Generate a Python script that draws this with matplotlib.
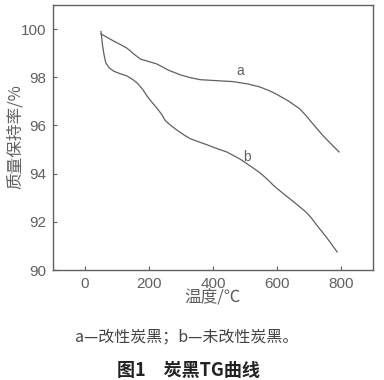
import numpy as np
import matplotlib.pyplot as plt

plt.rcParams['font.family'] = ['Noto Sans CJK SC', 'DejaVu Sans']

# curve a: modified carbon black
temp_a = [50, 70, 90, 112, 132, 154, 174, 200, 225, 260, 298, 330, 360, 410, 463, 510, 546, 575, 598, 635, 670, 690, 710, 742, 770, 794]
mass_a = [99.8, 99.65, 99.5, 99.35, 99.2, 98.95, 98.75, 98.65, 98.55, 98.3, 98.1, 97.98, 97.9, 97.86, 97.82, 97.72, 97.6, 97.45, 97.3, 97.02, 96.7, 96.42, 96.1, 95.6, 95.22, 94.9]

# curve b: unmodified carbon black
temp_b = [50, 52, 55, 60, 65, 75, 90, 110, 132, 150, 164, 180, 195, 210, 226, 240, 251, 270, 288, 310, 329, 355, 381, 410, 443, 485, 524, 545, 567, 590, 617, 655, 691, 705, 722, 755, 788]
mass_b = [99.9, 99.65, 99.3, 98.9, 98.6, 98.4, 98.25, 98.15, 98.05, 97.9, 97.75, 97.5, 97.2, 96.95, 96.7, 96.45, 96.2, 95.98, 95.8, 95.6, 95.45, 95.32, 95.2, 95.05, 94.9, 94.6, 94.25, 94.05, 93.8, 93.5, 93.2, 92.8, 92.4, 92.2, 91.9, 91.35, 90.75]

xticks = [0, 200, 400, 600, 800]
yticks = [90, 92, 94, 96, 98, 100]

grey = '#606060'

fig = plt.figure(figsize=(3.84, 3.80), dpi=100)
ax = fig.add_axes([53/384, 1 - 270/380, (373-53)/384, (270-5)/380])

ax.plot(temp_a, mass_a, color=grey, lw=0.9)
ax.plot(temp_b, mass_b, color=grey, lw=0.9)
ax.text(484, 98.25, 'a', color=grey, fontsize=10, ha='center', va='center', family='Liberation Sans')
ax.text(505, 94.7, 'b', color=grey, fontsize=10, ha='center', va='center', family='Liberation Sans')

ax.set_xlim(-100, 900)
ax.set_ylim(90, 101)
ax.set_xticks(xticks)
ax.set_yticks(yticks)
ax.tick_params(direction='in', length=3, width=0.8, colors=grey, labelsize=11, pad=5)
for lab in ax.get_xticklabels() + ax.get_yticklabels():
    lab.set_family('Liberation Sans')
for s in ax.spines.values():
    s.set_color(grey)
    s.set_linewidth(1.0)

fig.text(213/384, 1 - 298/380, '温度/℃', color=grey, fontsize=12, ha='center', va='center')
fig.text(15/384, 1 - 137/380, '质量保持率/%', color=grey, fontsize=12, ha='center', va='center', rotation=90)

fig.text(187/384, 1 - 337/380, 'a—改性炭黑；b—未改性炭黑。', color='#444444', fontsize=11.5, ha='center', va='center')
fig.text(188/384, 1 - 370/380, '图1　炭黑TG曲线', color='#222222', fontsize=13, ha='center', va='center', fontweight='bold')

fig.savefig('out.png', dpi=100)
